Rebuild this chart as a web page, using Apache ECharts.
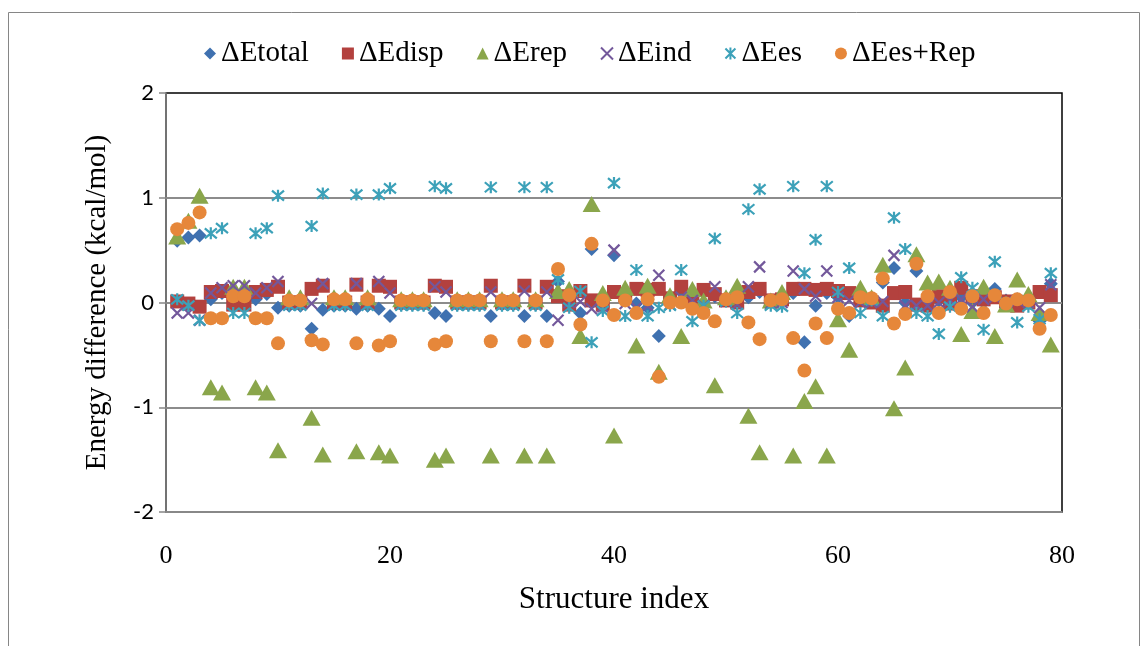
<!DOCTYPE html>
<html>
<head>
<meta charset="utf-8">
<script src="https://cdn.jsdelivr.net/npm/echarts@6/dist/echarts.min.js"></script>
<style>
html,body{margin:0;padding:0;background:#fff;}
#main{width:1146px;height:646px;}
</style>
</head>
<body>
<div id="main"></div>
<script>
// structure index 1..79, values in kcal/mol
var seriesNames = ['ΔEtotal', 'ΔEdisp', 'ΔErep', 'ΔEind', 'ΔEes', 'ΔEes+Rep'];
var xTicks = [0, 20, 40, 60, 80];
var yTicks = [-2, -1, 0, 1, 2];

var eTotal = [0.59,0.62,0.64,0.03,0.09,0.00,0.00,0.03,0.08,-0.05,
	-0.03,-0.03,-0.25,-0.07,-0.03,-0.03,-0.06,-0.03,-0.06,-0.13,
	-0.02,-0.02,-0.02,-0.10,-0.13,-0.02,-0.02,-0.02,-0.13,-0.02,
	-0.02,-0.13,-0.02,-0.13,0.20,0.02,-0.10,0.51,-0.04,0.45,
	0.03,-0.01,-0.05,-0.32,0.00,0.10,0.03,-0.02,0.06,0.02,
	0.00,0.05,0.10,0.01,0.02,0.09,-0.38,-0.03,0.09,0.05,
	-0.13,0.03,0.02,0.19,0.33,0.00,0.30,0.00,0.02,0.03,
	0.05,0.00,0.00,0.13,0.02,0.03,0.02,-0.18,0.18];
var eDisp = [0.01,-0.01,-0.04,0.10,0.11,-0.02,-0.02,0.10,0.12,0.15,
	0.00,0.00,0.13,0.16,0.00,0.00,0.17,0.00,0.16,0.15,
	0.00,0.00,0.00,0.16,0.15,0.00,0.00,0.00,0.16,0.00,
	0.00,0.16,0.00,0.15,0.06,-0.02,0.11,0.02,-0.02,0.10,
	0.07,0.13,0.12,0.13,0.04,0.15,0.05,0.12,0.08,0.02,
	0.00,0.10,0.13,0.02,0.03,0.13,0.13,0.12,0.13,0.11,
	0.09,0.02,0.00,-0.03,0.09,0.10,-0.02,-0.03,0.06,-0.01,
	0.14,0.06,0.03,0.05,0.01,-0.03,0.00,0.10,0.07];
var eRep = [0.63,0.78,1.02,-0.81,-0.86,0.15,0.15,-0.81,-0.86,-1.41,
	0.05,0.05,-1.10,-1.45,0.05,0.05,-1.42,0.05,-1.43,-1.46,
	0.03,0.03,0.03,-1.50,-1.46,0.03,0.03,0.03,-1.46,0.03,
	0.03,-1.46,0.03,-1.46,0.11,0.13,-0.32,0.94,0.09,-1.27,
	0.14,-0.41,0.16,-0.66,0.07,-0.32,0.13,0.02,-0.79,0.05,
	0.16,-1.08,-1.43,0.02,0.10,-1.46,-0.94,-0.80,-1.46,-0.16,
	-0.45,0.14,0.05,0.36,-1.01,-0.62,0.46,0.19,0.20,0.14,
	-0.30,-0.08,0.15,-0.32,-0.02,0.22,0.08,-0.10,-0.40];
var eInd = [-0.10,-0.10,-0.17,0.09,0.14,0.16,0.16,0.09,0.14,0.20,
	-0.02,-0.02,-0.01,0.18,-0.02,-0.02,0.18,-0.02,0.20,0.09,
	-0.02,-0.02,-0.02,0.15,0.10,-0.02,-0.02,-0.02,0.10,-0.02,
	-0.02,0.11,-0.02,0.10,-0.17,0.00,0.01,-0.06,-0.04,0.50,
	-0.01,-0.05,-0.03,0.26,-0.02,0.05,0.02,-0.03,0.15,0.01,
	-0.02,0.15,0.34,-0.01,0.00,0.30,0.13,0.06,0.30,0.05,
	0.02,0.00,0.00,0.01,0.45,-0.03,-0.03,-0.03,0.00,0.02,
	0.03,-0.04,0.03,0.05,0.00,0.02,0.00,-0.05,0.17];
var eEs = [0.03,-0.03,-0.17,0.66,0.71,-0.10,-0.10,0.66,0.71,1.02,
	-0.03,-0.03,0.73,1.04,-0.03,-0.03,1.03,-0.03,1.03,1.09,
	-0.03,-0.03,-0.03,1.11,1.09,-0.03,-0.03,-0.03,1.10,-0.03,
	-0.03,1.10,-0.03,1.10,0.22,-0.05,0.11,-0.38,-0.08,1.14,
	-0.13,0.31,-0.13,-0.05,-0.03,0.31,-0.18,-0.03,0.61,0.01,
	-0.10,0.89,1.08,-0.03,-0.04,1.11,0.28,0.60,1.11,0.10,
	0.33,-0.10,0.02,-0.13,0.81,0.51,-0.10,-0.13,-0.30,-0.04,
	0.24,0.14,-0.26,0.39,0.00,-0.19,-0.04,-0.16,0.28];
var eEsRep = [0.70,0.76,0.86,-0.15,-0.15,0.06,0.06,-0.15,-0.15,-0.39,
	0.02,0.02,-0.36,-0.40,0.03,0.03,-0.39,0.03,-0.41,-0.37,
	0.02,0.02,0.02,-0.40,-0.37,0.02,0.02,0.02,-0.37,0.02,
	0.02,-0.37,0.02,-0.37,0.32,0.07,-0.21,0.56,0.02,-0.12,
	0.02,-0.10,0.03,-0.71,0.00,0.00,-0.06,-0.10,-0.18,0.03,
	0.05,-0.19,-0.35,0.02,0.03,-0.34,-0.65,-0.20,-0.34,-0.06,
	-0.10,0.05,0.04,0.23,-0.20,-0.11,0.37,0.06,-0.10,0.10,
	-0.06,0.06,-0.10,0.07,-0.01,0.03,0.02,-0.25,-0.12];

function toPoints(arr){
	return arr.map(function(v, i){ return [i + 1, v]; });
}

var crossPath = 'path://M0,0L10,10M10,0L0,10';
var starPath = 'path://M0,0L10,10M10,0L0,10M5,-1L5,11';

var myChart = echarts.init(document.getElementById('main'));
var option = {
	animation: false,
	backgroundColor: '#fff',
	graphic: [{
		type: 'rect',
		shape: {x: 8.5, y: 12.5, width: 1131, height: 700},
		style: {fill: 'none', stroke: '#868686', lineWidth: 1}
	}],
	legend: {
		left: 199,
		top: 34,
		itemGap: 33,
		itemWidth: 12,
		itemHeight: 12,
		textStyle: {fontFamily: 'Liberation Serif', fontSize: 29, color: '#000'},
		data: seriesNames
	},
	grid: {
		left: 166, right: 84, top: 93, bottom: 134,
		show: true, borderColor: '#000', borderWidth: 1.5, backgroundColor: 'transparent'
	},
	xAxis: {
		type: 'value',
		min: xTicks[0], max: xTicks[xTicks.length - 1], interval: 20,
		name: 'Structure index',
		nameLocation: 'middle',
		nameGap: 72,
		nameTextStyle: {fontFamily: 'Liberation Serif', fontSize: 31, color: '#000'},
		axisLine: {onZero: false, lineStyle: {color: '#868686', width: 1.5}},
		axisTick: {show: false},
		axisLabel: {margin: 31, fontFamily: 'Liberation Serif', fontSize: 26, color: '#000'},
		splitLine: {show: false}
	},
	yAxis: {
		type: 'value',
		min: yTicks[0], max: yTicks[yTicks.length - 1], interval: 1,
		name: 'Energy difference (kcal/mol)',
		nameLocation: 'middle',
		nameGap: 54,
		nameTextStyle: {fontFamily: 'Liberation Serif', fontSize: 29, color: '#000'},
		axisLine: {show: true, onZero: false, lineStyle: {color: '#868686', width: 1.5}},
		axisTick: {show: true, length: 7, lineStyle: {color: '#868686', width: 1.5}},
		axisLabel: {margin: 12, fontFamily: 'Lato', fontSize: 22, color: '#000'},
		splitLine: {show: true, showMaxLine: false, lineStyle: {color: '#8c8c8c', width: 2}}
	},
	series: [{
		name: seriesNames[0], type: 'scatter', symbol: 'diamond', symbolSize: 14,
		itemStyle: {color: '#3f71b0', opacity: 1},
		data: toPoints(eTotal)
	}, {
		name: seriesNames[1], type: 'scatter', symbol: 'rect', symbolSize: 14,
		itemStyle: {color: '#b3413e', opacity: 1},
		data: toPoints(eDisp)
	}, {
		name: seriesNames[2], type: 'scatter', symbol: 'triangle', symbolSize: [18, 16],
		itemStyle: {color: '#8aa64b', opacity: 1},
		data: toPoints(eRep)
	}, {
		name: seriesNames[3], type: 'scatter', symbol: crossPath, symbolSize: 11,
		itemStyle: {color: '#73589b', borderColor: '#73589b', borderWidth: 2.2, opacity: 1},
		data: toPoints(eInd)
	}, {
		name: seriesNames[4], type: 'scatter', symbol: starPath, symbolSize: 12,
		itemStyle: {color: '#3ca1b9', borderColor: '#3ca1b9', borderWidth: 2.2, opacity: 1},
		data: toPoints(eEs)
	}, {
		name: seriesNames[5], type: 'scatter', symbol: 'circle', symbolSize: 14,
		itemStyle: {color: '#e6873a', opacity: 1},
		data: toPoints(eEsRep)
	}]
};
myChart.setOption(option);
</script>
</body>
</html>
